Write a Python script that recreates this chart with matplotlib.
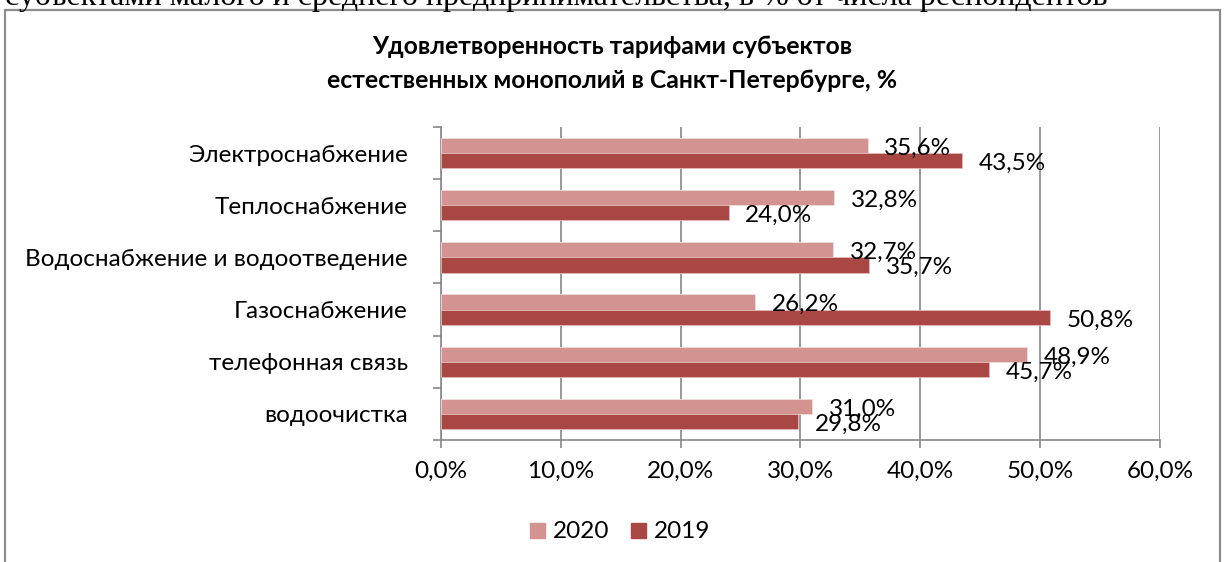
import matplotlib
matplotlib.use('Agg')
import matplotlib.pyplot as plt
import numpy as np
from matplotlib.patches import Rectangle
from matplotlib.lines import Line2D

plt.rcParams['font.family'] = ['Lato', 'DejaVu Sans']

# Data
categories = [
    "Электроснабжение",
    "Теплоснабжение",
    "Водоснабжение и водоотведение",
    "Газоснабжение",
    "телефонная связь",
    "водоочистка",
]
values_2020 = [35.6, 32.8, 32.7, 26.2, 48.9, 31.0]
values_2019 = [43.5, 24.0, 35.7, 50.8, 45.7, 29.8]
series_names = ["2020", "2019"]
x_ticks = [0, 10, 20, 30, 40, 50, 60]

color_2020 = "#D39391"
color_2019 = "#A94744"
grid_color = "#878787"
fs = 17.5

fig = plt.figure(figsize=(12.24, 5.62), dpi=100)
ax = fig.add_axes([0.3603, 0.2171, 0.5874, 0.557])

y = np.arange(len(categories))
bar_h = 0.29
ax.barh(y - bar_h / 2, values_2020, height=bar_h, color=color_2020,
        edgecolor="#f2dcdb", linewidth=0.6, zorder=3)
ax.barh(y + bar_h / 2, values_2019, height=bar_h, color=color_2019,
        edgecolor="#e6b9b8", linewidth=0.6, zorder=3)


def pct(v):
    return f"{v:.1f}%".replace(".", ",")


# value labels, offset to the right like the Excel original
for yi, v in zip(y - bar_h / 2, values_2020):
    ax.annotate(pct(v), (v, yi), xytext=(12, -2), textcoords="offset points",
                ha="left", va="center", fontsize=fs, zorder=4)
for yi, v in zip(y + bar_h / 2, values_2019):
    ax.annotate(pct(v), (v, yi), xytext=(12, -2), textcoords="offset points",
                ha="left", va="center", fontsize=fs, zorder=4)

ax.set_xlim(0, 60)
ax.set_ylim(len(categories) - 0.5, -0.5)
ax.set_xticks(x_ticks)
ax.set_xticklabels([pct(t) for t in x_ticks], fontsize=fs)
ax.set_yticks(y)
ax.set_yticklabels(categories, fontsize=fs)
ax.set_yticks(np.arange(len(categories) + 1) - 0.5, minor=True)

ax.tick_params(axis="y", which="major", length=0, pad=24)
ax.tick_params(axis="y", which="minor", length=6, width=1.2, color=grid_color, direction="out")
ax.tick_params(axis="x", which="major", length=6, width=1.2, color=grid_color, direction="out", pad=9)

ax.xaxis.grid(True, color=grid_color, linewidth=1.2, zorder=0)
ax.set_axisbelow(True)
for side in ["top", "right"]:
    ax.spines[side].set_visible(False)
for side in ["left", "bottom"]:
    ax.spines[side].set_color(grid_color)
    ax.spines[side].set_linewidth(1.2)

# title
fig.text(0.5, 0.887, "Удовлетворенность тарифами субъектов\nестественных монополий в Санкт-Петербурге, %",
         ha="center", va="center", fontsize=17.8, fontweight="bold", linespacing=1.58)

# legend
handles = [
    Line2D([], [], marker="s", linestyle="none", markersize=10.8, color=color_2020),
    Line2D([], [], marker="s", linestyle="none", markersize=10.8, color=color_2019),
]
fig.legend(handles, series_names, loc="center", bbox_to_anchor=(0.506, 0.0534), ncol=2,
           frameon=False, fontsize=fs, handletextpad=0.3, columnspacing=0.8,
           handlelength=0.7, borderpad=0.1)

# surrounding chart frame (bottom edge falls outside the crop)
fig.patches.append(Rectangle((5 / 1224, -0.1), 1215 / 1224, 1.1 - 10 / 562,
                             transform=fig.transFigure, fill=False,
                             edgecolor="#8c8c8c", linewidth=1.6, clip_on=False))

# line of the document text above the chart, cut by the crop
fig.text(5 / 1224, 1 - 5 / 562,
         "субъектами малого и среднего предпринимательства, в % от числа респондентов",
         ha="left", va="baseline", fontsize=23, family="Liberation Serif")

fig.savefig("out.png", dpi=100)
